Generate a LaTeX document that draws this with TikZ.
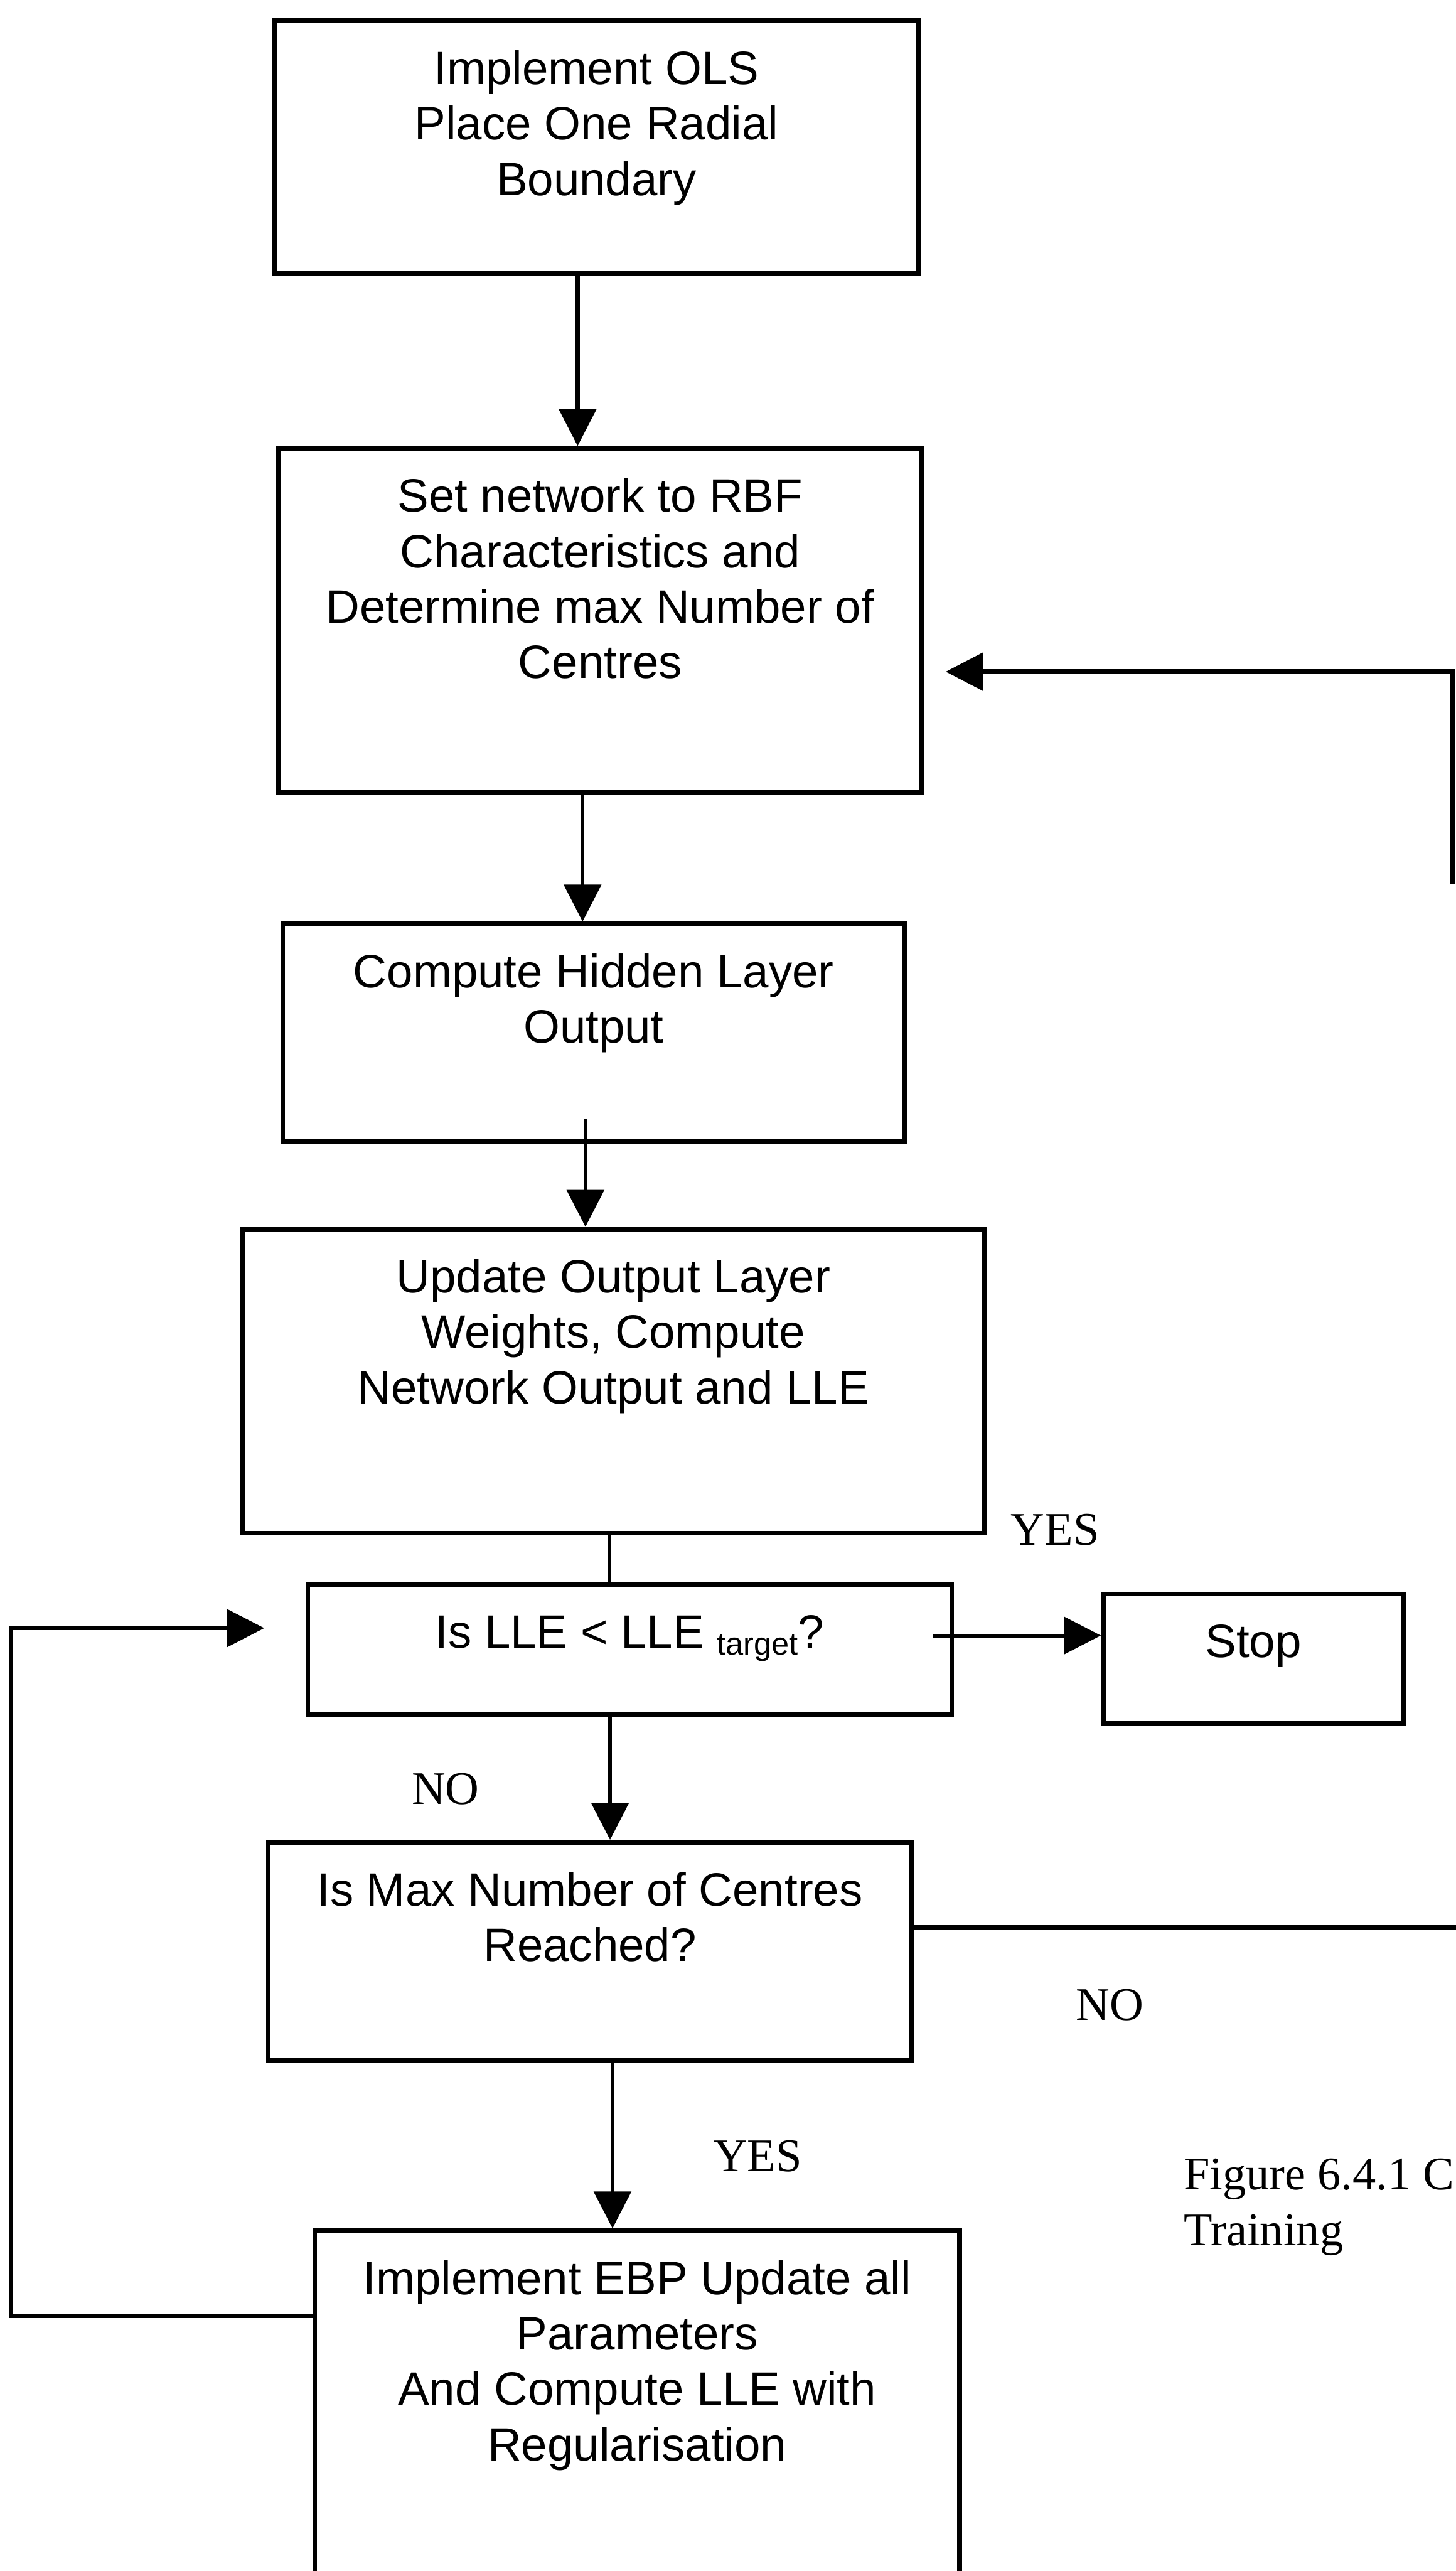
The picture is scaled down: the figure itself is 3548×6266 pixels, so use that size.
\documentclass[tikz,border=0pt]{standalone}
\usepackage{fontspec}
\setmainfont{Liberation Sans}
\newfontfamily\labfont{Liberation Serif}
\usetikzlibrary{arrows.meta,calc}
% centred lines whose baseline is that of the first line
\newcommand\boxlines[1]{\begin{tabular}[t]{@{}c@{}}#1\end{tabular}}

\begin{document}
\begin{tikzpicture}[x=0.01cm,y=-0.01cm,
  flowbox/.style={draw, line width=3.3pt, inner xsep=0pt, inner ysep=0pt, anchor=north,
    font=\fontsize{32.4pt}{38.4pt}\selectfont, text height=1.55cm},
  link/.style={line width=2.7pt},
  arr/.style={link, -{Triangle[length=0.9cm,width=0.9cm]}},
  tag/.style={font=\labfont\fontsize{32.4pt}{38.4pt}\selectfont, inner sep=0pt, anchor=base}]

\fill[white] (0,0) rectangle (3548,6266);
\useasboundingbox (0,0) rectangle (3548,6266);

% process and decision boxes
\node[flowbox, minimum width=15.70cm, text depth=4.60cm] (ols) at (1454,45)
  {\boxlines{Implement OLS\\Place One Radial\\Boundary}};
\node[flowbox, minimum width=15.68cm, text depth=6.83cm] (setnet) at (1463,1087)
  {\boxlines{Set network to RBF\\Characteristics and\\Determine max Number of\\Centres}};
\node[flowbox, minimum width=15.15cm, text depth=3.75cm] (hidden) at (1447,2246)
  {\boxlines{Compute Hidden Layer\\Output}};
\node[flowbox, minimum width=18.06cm, text depth=5.85cm] (update) at (1495,2990)
  {\boxlines{Update Output Layer\\Weights, Compute\\Network Output and LLE}};
\node[flowbox, minimum width=15.69cm, text depth=1.62cm] (lle) at (1535,3856)
  {Is LLE < LLE \raisebox{-4.5pt}{\fontsize{22pt}{24pt}\selectfont target}?};
\node[flowbox, minimum width=7.31cm, text depth=1.61cm] (stop) at (3055,3879) {Stop};
\node[flowbox, minimum width=15.67cm, text depth=3.77cm] (maxc) at (1438,4484)
  {\boxlines{Is Max Number of Centres\\Reached?}};
\node[flowbox, minimum width=15.71cm, text depth=8.14cm] (ebp) at (1553,5431)
  {\boxlines{Implement EBP Update all\\Parameters\\And Compute LLE with\\Regularisation}};

% branch labels and caption
\node[tag] (yesstop) at (2572,3765) {YES};
\node[tag] (nomax) at (1086,4398) {NO};
\node[tag] (noloop) at (2705,4924) {NO};
\node[tag] (yesebp) at (1847,5292) {YES};
\node[tag, anchor=base west] (caption) at (2885,5337)
  {\begin{tabular}[t]{@{}l@{}}Figure 6.4.1 C\\Training\end{tabular}};

% main flow
\coordinate (xa) at (1408,0);
\coordinate (xb) at (1420,0);
\coordinate (xc) at (1427,0);
\coordinate (xd) at (1485,0);
\coordinate (xe) at (1487,0);
\coordinate (xf) at (1493,0);
\draw[arr] (ols.south -| xa) -- (setnet.north -| xa);
\draw[arr] (setnet.south -| xb) -- (hidden.north -| xb);
\draw[arr, shorten <=-0.61cm] (hidden.south -| xc) -- (update.north -| xc);
\draw[link] (update.south -| xd) -- (lle.north -| xd);
\draw[arr] (lle.south -| xe) -- (maxc.north -| xe);
\draw[arr] (maxc.south -| xf) -- (ebp.north -| xf);

% exit to stop
\coordinate (ystop) at (0,3986);
\draw[arr, shorten <=-0.51cm] (lle.east |- ystop) -- (stop.west |- ystop);

% loop back from the centre test
\coordinate (rmax) at (3600,4697);
\draw[link] (maxc.east |- rmax) -- (rmax);
\coordinate (rlow) at (3541,2155);
\coordinate (rtop) at (3541,1637);
\draw[arr, line width=3.3pt, shorten >=0.52cm] (rlow) -- (rtop) -- (setnet.east |- rtop);

% loop back after EBP
\coordinate (lbot) at (28,5645);
\coordinate (ltop) at (28,3968);
\draw[arr, shorten >=1cm] (ebp.west |- lbot) -- (lbot) -- (ltop) -- (lle.west |- ltop);
\end{tikzpicture}
\end{document}
